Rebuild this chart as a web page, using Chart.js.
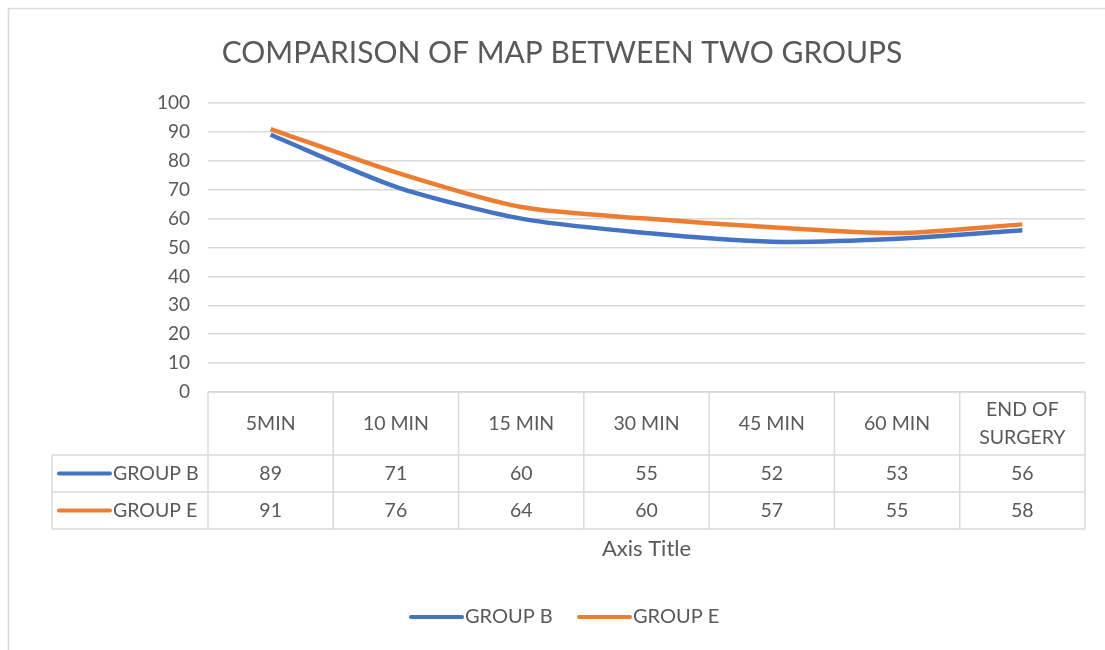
<!DOCTYPE html>
<html>
<head>
<meta charset="utf-8">
<script src="https://cdn.jsdelivr.net/npm/chart.js@4.4.0/dist/chart.umd.min.js"></script>
<style>
  body { margin: 0; background: #fff; }
  canvas { display: block; }
</style>
</head>
<body>
<canvas id="chart" width="1105" height="650"></canvas>
<script>
// data
const categories = ["5MIN", "10 MIN", "15 MIN", "30 MIN", "45 MIN", "60 MIN", ["END OF", "SURGERY"]];
const seriesNames = ["GROUP B", "GROUP E"];
const groupB = [89, 71, 60, 55, 52, 53, 56];
const groupE = [91, 76, 64, 60, 57, 55, 58];
const yMin = 0, yMax = 100, yStep = 10;

const titleText = "COMPARISON OF MAP BETWEEN TWO GROUPS";
const axisTitle = "Axis Title";

const BLUE = "#4472C4";
const ORANGE = "#ED7D31";
const GREY = "#595959";
const LINE = "#d9d9d9";
const FONT = "Lato, 'Open Sans', sans-serif";

Chart.defaults.font.family = FONT;
Chart.defaults.color = GREY;

// table, title, legend drawn on top
const extras = {
  id: "extras",
  beforeDraw(chart) {
    const { ctx } = chart;
    ctx.save();
    ctx.strokeStyle = LINE;
    ctx.lineWidth = 1.5;
    ctx.beginPath();
    ctx.moveTo(8.5, 650);
    ctx.lineTo(8.5, 8.5);
    ctx.lineTo(1105, 8.5);
    ctx.stroke();
    ctx.restore();
  },
  afterDraw(chart) {
    const { ctx, chartArea } = chart;
    const x = chart.scales.x;
    const colW = chartArea.width / categories.length;
    const top = chartArea.bottom;
    const rows = [top, top + 63, top + 100, top + 137];
    const tableLeft = 52;

    ctx.save();
    // grid of table
    ctx.strokeStyle = LINE;
    ctx.lineWidth = 1.5;
    ctx.beginPath();
    ctx.moveTo(chartArea.left, rows[0]);
    ctx.lineTo(chartArea.right, rows[0]);
    for (let r = 1; r < rows.length; r++) {
      ctx.moveTo(tableLeft, rows[r]);
      ctx.lineTo(chartArea.right, rows[r]);
    }
    ctx.moveTo(tableLeft, rows[1]);
    ctx.lineTo(tableLeft, rows[3]);
    for (let i = 0; i <= categories.length; i++) {
      const cx = chartArea.left + i * colW;
      ctx.moveTo(cx, rows[0]);
      ctx.lineTo(cx, rows[3]);
    }
    ctx.stroke();

    // header
    ctx.fillStyle = GREY;
    ctx.font = "19.5px " + FONT;
    ctx.textAlign = "center";
    ctx.textBaseline = "middle";
    categories.forEach((c, i) => {
      const cx = x.getPixelForValue(i);
      const mid = (rows[0] + rows[1]) / 2;
      if (Array.isArray(c)) {
        ctx.fillText(c[0], cx, mid - 14);
        ctx.fillText(c[1], cx, mid + 14);
      } else {
        ctx.fillText(c, cx, mid);
      }
    });

    // value rows
    const sets = [groupB, groupE];
    const cols = [BLUE, ORANGE];
    sets.forEach((vals, s) => {
      const mid = (rows[s + 1] + rows[s + 2]) / 2;
      vals.forEach((v, i) => {
        ctx.textAlign = "center";
        ctx.fillText(v, x.getPixelForValue(i), mid);
      });
      ctx.strokeStyle = cols[s];
      ctx.lineWidth = 4;
      ctx.lineCap = "round";
      ctx.beginPath();
      ctx.moveTo(59, mid);
      ctx.lineTo(110, mid);
      ctx.stroke();
      ctx.textAlign = "left";
      ctx.fillText(seriesNames[s], 113, mid);
    });

    // title
    ctx.textAlign = "center";
    ctx.font = "30px " + FONT;
    ctx.fillText(titleText, 562, 53);

    // axis title
    ctx.font = "22px " + FONT;
    ctx.fillText(axisTitle, (chartArea.left + chartArea.right) / 2, 549);

    // legend
    ctx.font = "20px " + FONT;
    const legendItems = [[411, BLUE], [579, ORANGE]];
    legendItems.forEach(([lx, col], s) => {
      ctx.strokeStyle = col;
      ctx.lineWidth = 4;
      ctx.lineCap = "round";
      ctx.beginPath();
      ctx.moveTo(lx, 617);
      ctx.lineTo(lx + 51, 617);
      ctx.stroke();
      ctx.textAlign = "left";
      ctx.fillText(seriesNames[s], lx + 54, 617);
    });
    ctx.restore();
  }
};

const chart = new Chart(document.getElementById("chart"), {
  type: "line",
  data: {
    labels: categories,
    datasets: [
      { label: seriesNames[0], data: groupB, borderColor: BLUE, backgroundColor: BLUE, borderWidth: 4.5, pointRadius: 0, tension: 0.25 },
      { label: seriesNames[1], data: groupE, borderColor: ORANGE, backgroundColor: ORANGE, borderWidth: 4.5, pointRadius: 0, tension: 0.25 }
    ]
  },
  options: {
    responsive: false,
    animation: false,
    layout: { padding: { top: 103, bottom: 258, left: 0, right: 20 } },
    plugins: {
      legend: { display: false },
      tooltip: { enabled: false }
    },
    scales: {
      x: { offset: true, display: false },
      y: {
        min: yMin,
        max: yMax,
        ticks: { stepSize: yStep, padding: 18, color: GREY, font: { size: 19 } },
        grid: { color: LINE, lineWidth: 1.5, drawTicks: false },
        border: { display: false },
        afterFit(scale) { scale.width = 208; }
      }
    }
  },
  plugins: [extras]
});
</script>
</body>
</html>
